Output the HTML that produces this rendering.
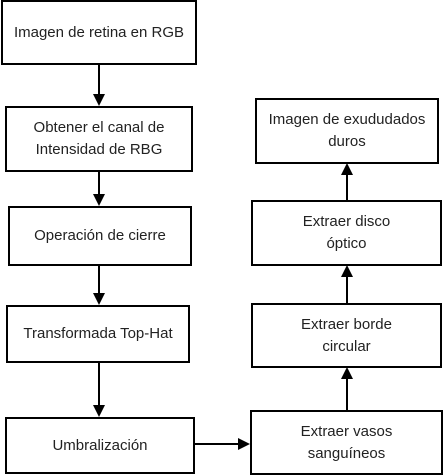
<!DOCTYPE html>
<html><head><style>
html,body{margin:0;padding:0;background:#fff;}
body{width:444px;height:476px;position:relative;overflow:hidden;font-family:"Liberation Sans","DejaVu Sans",sans-serif;}
.b{position:absolute;box-sizing:border-box;border:2px solid #000;background:#fff;display:flex;align-items:center;justify-content:center;text-align:center;font-size:15px;line-height:22px;color:#222;}
svg{position:absolute;left:0;top:0;}
</style></head><body>
<svg width="444" height="476">
<defs><marker id="a" markerWidth="6" markerHeight="6" refX="5" refY="3" orient="auto" markerUnits="strokeWidth"><path d="M0,0 L6,3 L0,6 z" fill="#000"/></marker></defs>
<g stroke="#000" stroke-width="2" fill="none" marker-end="url(#a)">
<line x1="99" y1="64" x2="99" y2="104"/>
<line x1="99" y1="171" x2="99" y2="204"/>
<line x1="99" y1="265" x2="99" y2="303"/>
<line x1="99" y1="363" x2="99" y2="415"/>
<line x1="195" y1="444" x2="248" y2="444"/>
<line x1="347" y1="410" x2="347" y2="369"/>
<line x1="347" y1="303" x2="347" y2="267"/>
<line x1="347" y1="200" x2="347" y2="165"/>
</g>
</svg>
<div class="b" style="left:1px;top:0;width:196px;height:65px;border-width:2.5px">Imagen de retina en RGB</div>
<div class="b" style="left:5px;top:106px;width:188px;height:66px">Obtener el canal de<br>Intensidad de RBG</div>
<div class="b" style="left:8px;top:206px;width:184px;height:60px">Operación de cierre</div>
<div class="b" style="left:6px;top:305px;width:184px;height:58px">Transformada Top-Hat</div>
<div class="b" style="left:5px;top:417px;width:190px;height:57px">Umbralización</div>
<div class="b" style="left:255px;top:98px;width:184px;height:66px">Imagen de exududados<br>duros</div>
<div class="b" style="left:251px;top:200px;width:191px;height:66px">Extraer disco<br>óptico</div>
<div class="b" style="left:251px;top:303px;width:191px;height:65px">Extraer borde<br>circular</div>
<div class="b" style="left:250px;top:410px;width:193px;height:65px">Extraer vasos<br>sanguíneos</div>
</body></html>
